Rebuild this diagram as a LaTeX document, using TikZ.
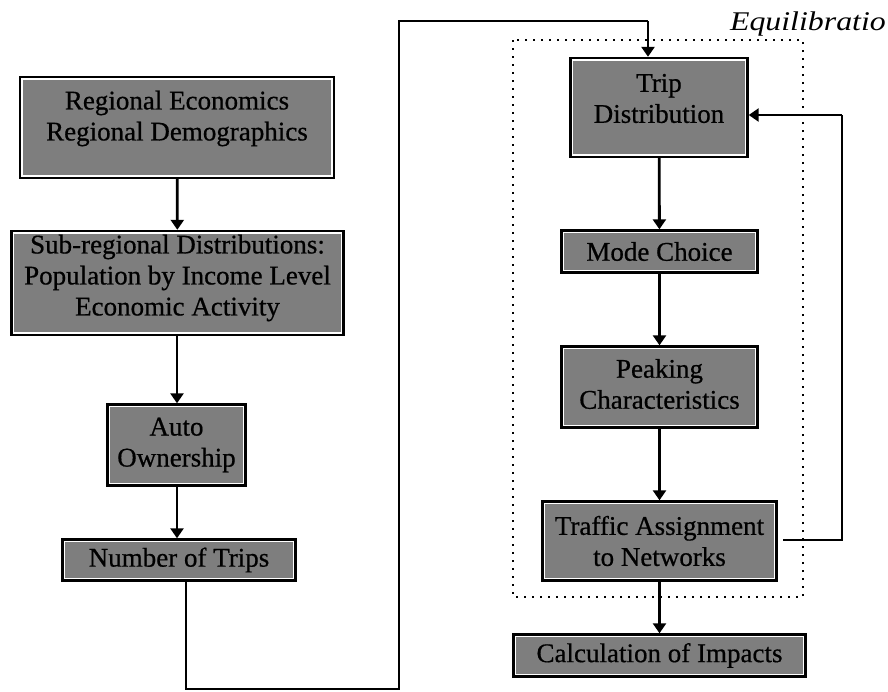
\documentclass[tikz,border=0pt]{standalone}
\usepackage{fontspec}
\setmainfont{Liberation Serif}
\newfontfamily\boxfont{Liberation Serif}[FakeBold=0.6]
\usetikzlibrary{arrows.meta}
\definecolor{boxgray}{RGB}{126,126,126}
\tikzset{
  stage/.style={draw=black, line width=3.4pt, fill=boxgray, inner sep=0pt},
  stagetext/.style={align=center, inner sep=0pt,
    font=\boxfont\fontsize{27}{31}\selectfont},
  flow/.style={line width=2.8pt, -{Triangle[width=13pt,length=10pt]}},
  wire/.style={line width=2.8pt},
  inset/.style={white, line width=1.5pt},
  loopbox/.style={line width=2pt, dash pattern=on 2pt off 6pt}
}
\begin{document}
\begin{tikzpicture}[x=1pt, y={(0pt,-1pt)}]
\useasboundingbox (0,0) rectangle (888,691);

% left column boxes
\node[stage, minimum width=313pt, minimum height=100pt] (reg) at (177,127.5) {};
\node[stage, minimum width=331pt, minimum height=103pt] (sub) at (177.5,283) {};
\node[stage, minimum width=137pt, minimum height=80pt] (auto) at (176.5,445) {};
\node[stage, minimum width=232pt, minimum height=40pt] (trips) at (179,560) {};

% right column boxes
\node[stage, minimum width=176pt, minimum height=98pt] (td) at (659,107.5) {};
\node[stage, minimum width=195pt, minimum height=41pt] (mc) at (659.5,251.5) {};
\node[stage, minimum width=195pt, minimum height=80pt] (pk) at (659.5,387) {};
\node[stage, minimum width=233pt, minimum height=78pt] (ta) at (659.5,541) {};
\node[stage, minimum width=291pt, minimum height=41pt] (ci) at (659.5,655.5) {};

% white inner rule of every stage box
\foreach \n in {reg,sub,auto,trips,td,mc,pk,ta,ci}
  \draw[inset] ([shift={(3.4pt,-3.4pt)}]\n.north west)
    rectangle ([shift={(-3.4pt,3.4pt)}]\n.south east);

% box texts
\node[stagetext] (regt) at ([yshift=9pt]reg) {Regional Economics\\Regional Demographics};
\node[stagetext] (subt) at ([yshift=5pt]sub)
  {Sub-regional Distributions:\\Population by Income Level\\Economic Activity};
\node[stagetext] (autot) at (auto) {Auto\\Ownership};
\node[stagetext] (tripst) at (trips) {Number of Trips};
\node[stagetext] (tdt) at ([yshift=9pt]td) {Trip\\Distribution};
\node[stagetext] (mct) at (mc) {Mode Choice};
\node[stagetext] (pkt) at ([yshift=3pt]pk) {Peaking\\Characteristics};
\node[stagetext] (tat) at (ta) {Traffic Assignment\\to Networks};
\node[stagetext] (cit) at (ci) {Calculation of Impacts};

% equilibration loop frame
\draw[loopbox] (513,40) rectangle (803,597);
\node[anchor=base east, font=\fontsize{27}{30}\selectfont\itshape, inner sep=0pt]
  (eq) at (886,30) {\scalebox{1.18}[1]{Equilibratio}};

% left column arrows
\draw[flow] (reg) -- (sub);
\draw[flow] (sub.south -| reg) -- (auto.north -| reg);
\draw[flow] (auto.south -| reg) -- (trips.north -| reg);

% trips feed into trip distribution
\coordinate (t0) at (186,580);
\coordinate (t1) at (186,689);
\coordinate (t2) at (399,689);
\coordinate (t3) at (399,21);
\coordinate (t4) at (648,21);
\draw[wire] (t0) -- (t1) -- (t2) -- (t3) -- (t4);
\draw[flow] (t4) -- (t4 |- td.north);

% right column arrows
\draw[flow] (td) -- (mc);
\draw[flow] (mc) -- (pk);
\draw[flow] (pk) -- (ta);
\draw[flow] (ta) -- (ci);

% feedback from assignment to distribution
\coordinate (f0) at (783,540);
\coordinate (f1) at (842,540);
\coordinate (f2) at (842,115);
\draw[wire] (f0) -- (f1) -- (f2);
\draw[flow] (f2) -- (f2 -| td.east);
\end{tikzpicture}
\end{document}
